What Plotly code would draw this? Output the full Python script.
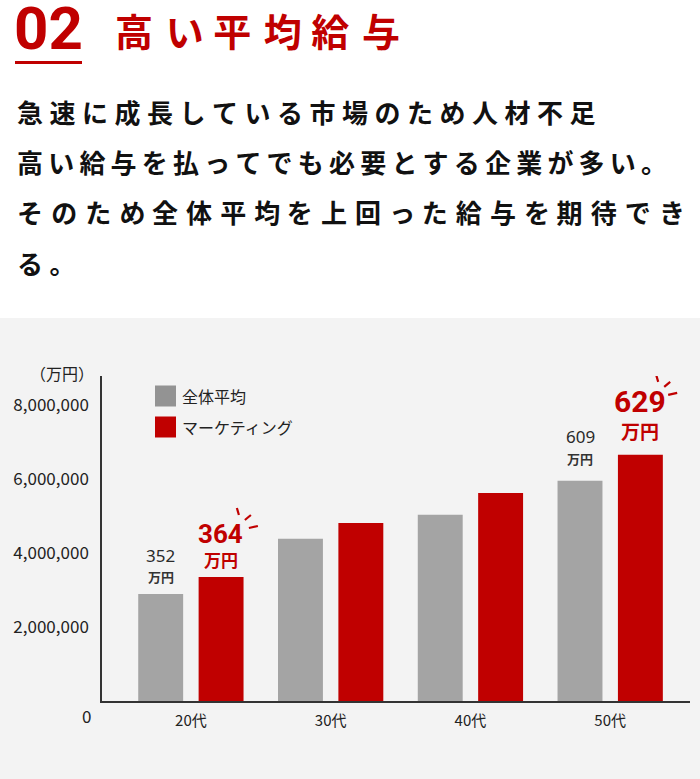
import plotly.graph_objects as go

# data
ages = ["20代", "30代", "40代", "50代"]
avg_all = [2890000, 4380000, 5030000, 5950000]
avg_marketing = [3350000, 4810000, 5620000, 6650000]
label_all = {"20代": "352", "50代": "609"}
label_marketing = {"20代": "364", "50代": "629"}
y_ticks = [2000000, 4000000, 6000000, 8000000]
y_tick_text = ["2,000,000", "4,000,000", "6,000,000", "8,000,000"]

GRAY = "#a4a4a4"
GRAY_KEY = "#939393"
RED = "#c00000"
BG = "#f3f3f3"
FONT = "Noto Sans CJK JP"

# plot box in pixels (700 x 779 page)
L, R, T, B = 102, 10, 376, 78
W, H = 700, 779
PW, PH = W - L - R, H - T - B


def px(x):
    return (x - L) / PW


def py(y):
    return (H - B - y) / PH


def spaced(s, seps):
    # letter spacing imitation, separators cycle through seps
    out = s[0]
    for k, ch in enumerate(s[1:]):
        out += seps[k % len(seps)] + ch
    return out


fig = go.Figure()

fig.add_trace(
    go.Bar(x=ages, y=avg_all, name="全体平均", marker=dict(color=GRAY, line_width=0))
)
fig.add_trace(
    go.Bar(
        x=ages, y=avg_marketing, name="マーケティング", marker=dict(color=RED, line_width=0)
    )
)

annotations = []
shapes = []

# gray panel below the header area
shapes.append(
    dict(type="rect", xref="paper", yref="paper", x0=px(-2), x1=px(W + 2), y0=py(H + 5),
         y1=py(318), fillcolor=BG, line_width=0, layer="below")
)

# header
annotations.append(
    dict(text="<b>02</b>", x=px(48), y=py(28), xref="paper", yref="paper",
         xanchor="center", yanchor="middle", showarrow=False,
         font=dict(family="Roboto", size=60, color=RED))
)
shapes.append(
    dict(type="rect", xref="paper", yref="paper", x0=px(15), x1=px(82), y0=py(64),
         y1=py(61), fillcolor=RED, line_width=0)
)
annotations.append(
    dict(text="<b>" + spaced("高い平均給与", ["\u2004", "\u2005"]) + "</b>", x=px(113),
         y=py(29), xref="paper", yref="paper", xanchor="left", yanchor="middle",
         showarrow=False, font=dict(family=FONT, size=38, color=RED))
)

body = [
    "急速に成長している市場のため人材不足",
    "高い給与を払ってでも必要とする企業が多い。",
    "そのため全体平均を上回った給与を期待でき",
    "る。",
]
body_seps = [
    ["\u2005"],
    ["\u2009"],
    ["\u2005\u200a", "\u2005\u200a", "\u2005\u200a", "\u2005"],
    ["\u2005"],
]
for i, line in enumerate(body):
    annotations.append(
        dict(text="<b>" + spaced(line, body_seps[i]) + "</b>", x=px(15),
             y=py(111 + i * 50.5), xref="paper", yref="paper", xanchor="left",
             yanchor="middle", showarrow=False,
             font=dict(family=FONT, size=26, color="#111111"))
    )

# unit label and zero label
annotations.append(
    dict(text="（万円）", x=px(96), y=py(373), xref="paper", yref="paper",
         xanchor="right", yanchor="middle", showarrow=False,
         font=dict(family=FONT, size=16, color="#222222"))
)
annotations.append(
    dict(text="0", x=px(93), y=0, xref="paper", yref="y", yshift=-14,
         xanchor="right", yanchor="middle", showarrow=False,
         font=dict(family=FONT, size=17, color="#222222"))
)

# manual legend
for (name, col, yc) in [("全体平均", GRAY_KEY, 396), ("マーケティング", RED, 427)]:
    shapes.append(
        dict(type="rect", xref="paper", yref="paper", x0=px(155), x1=px(176),
             y0=py(yc + 10.5), y1=py(yc - 10.5), fillcolor=col, line_width=0)
    )
    annotations.append(
        dict(text=name, x=px(180), y=py(yc), xref="paper", yref="paper",
             xanchor="left", yanchor="middle", showarrow=False,
             font=dict(family=FONT, size=16, color="#222222"))
    )

# value callouts
for i, age in enumerate(ages):
    big = age == "50代"
    if age in label_all:
        annotations.append(
            dict(text=label_all[age], x=age, y=avg_all[i], xshift=-30,
                 yshift=44 if big else 39, showarrow=False, yanchor="middle",
                 font=dict(family="Noto Sans", size=17, color="#2a2a2a"))
        )
        annotations.append(
            dict(text="<b>万円</b>", x=age, y=avg_all[i], xshift=-30,
                 yshift=22 if big else 18, showarrow=False, yanchor="middle",
                 font=dict(family=FONT, size=13, color="#333333"))
        )
    if age in label_marketing:
        annotations.append(
            dict(text="<b>" + label_marketing[age] + "</b>", x=age,
                 y=avg_marketing[i], xshift=30, yshift=53 if big else 43,
                 showarrow=False, yanchor="middle",
                 font=dict(family="Roboto", size=30 if big else 26, color=RED))
        )
        annotations.append(
            dict(text="<b>万円</b>", x=age, y=avg_marketing[i], xshift=30,
                 yshift=24 if big else 18, showarrow=False, yanchor="middle",
                 font=dict(family=FONT, size=19 if big else 17, color=RED))
        )
        # little burst strokes
        up = 80 if big else 69
        base_x = 30
        for (a, b, c, d) in [(16, 0, 18, -7), (24, -12, 30, -7), (28, -20, 37, -18)]:
            shapes.append(
                dict(type="line", xref="x", yref="y", xsizemode="pixel",
                     ysizemode="pixel", xanchor=age, yanchor=avg_marketing[i],
                     x0=base_x + a, x1=base_x + c, y0=up + b, y1=up + d,
                     line=dict(color=RED, width=2.2))
            )

fig.update_layout(
    width=W,
    height=H,
    margin=dict(l=L, r=R, t=T, b=B),
    paper_bgcolor="white",
    plot_bgcolor=BG,
    barmode="group",
    bargap=0.136,
    bargroupgap=0.256,
    showlegend=False,
    font=dict(family=FONT, color="#222222"),
    annotations=annotations,
    shapes=shapes,
    xaxis=dict(
        range=[-0.636, 3.571],
        showline=True,
        linecolor="#333333",
        linewidth=1.5,
        ticks="",
        ticklabelstandoff=5,
        tickfont=dict(size=15, color="#222222"),
        showgrid=False,
    ),
    yaxis=dict(
        range=[0, 8780000],
        tickvals=y_ticks,
        ticktext=y_tick_text,
        showline=True,
        linecolor="#333333",
        linewidth=1.5,
        ticks="",
        ticklabelstandoff=8,
        tickfont=dict(size=17, color="#222222"),
        showgrid=False,
        zeroline=False,
    ),
)

# page has a default 8px body margin; drop it so the figure fills the window
fig.write_html(
    "out.html",
    config={"displayModeBar": False},
    post_script="document.body.style.margin='0';",
)
